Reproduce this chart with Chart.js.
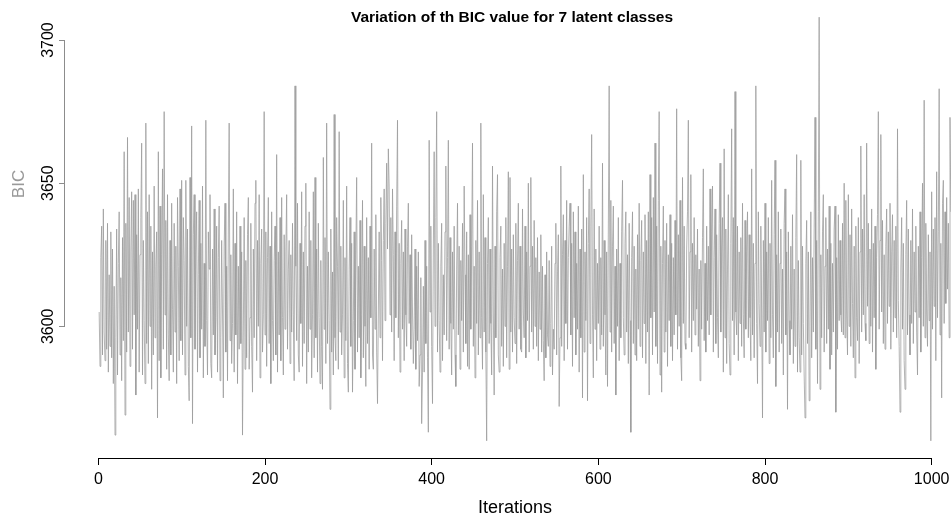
<!DOCTYPE html>
<html>
<head>
<meta charset="utf-8">
<script src="https://cdn.jsdelivr.net/npm/chart.js@4.4.0/dist/chart.umd.min.js"></script>
<style>
  html, body { margin: 0; padding: 0; background: #fff; overflow: hidden; }
  #wrap { width: 951px; height: 517px; }
</style>
</head>
<body>
<div id="wrap"><canvas id="chartTrace" width="951" height="517"></canvas></div>
<script>
// BIC value at each iteration (iteration = position + 1)
const bicValues = [
  3605,3586,3624,3635,3590,3641,3598,3588,3630,3592,
  3636,3584,3618,3593,3633,3589,3627,3580,3614,3562,
  3596,3634,3583,3622,3640,3590,3617,3581,3631,3595,
  3661,3569,3636,3591,3666,3598,3645,3586,3626,3647,
  3592,3644,3604,3646,3576,3632,3599,3648,3584,3625,
  3638,3664,3583,3630,3602,3580,3671,3594,3640,3587,
  3646,3600,3635,3578,3626,3590,3649,3596,3621,3633,
  3568,3661,3588,3642,3582,3625,3655,3592,3675,3604,
  3637,3585,3646,3597,3581,3630,3590,3643,3606,3584,
  3636,3598,3628,3580,3645,3621,3588,3648,3595,3651,
  3590,3638,3623,3583,3651,3600,3634,3586,3574,3652,
  3596,3670,3566,3632,3646,3592,3626,3640,3584,3618,
  3644,3589,3629,3599,3649,3582,3622,3593,3672,3602,
  3583,3633,3620,3646,3587,3582,3627,3597,3641,3590,
  3603,3635,3584,3624,3642,3581,3596,3630,3605,3575,
  3628,3643,3591,3621,3581,3634,3671,3595,3625,3587,
  3601,3648,3584,3629,3597,3640,3580,3621,3592,3635,
  3594,3626,3562,3598,3638,3585,3623,3589,3632,3645,
  3585,3603,3636,3593,3577,3627,3596,3643,3651,3588,
  3630,3600,3646,3582,3622,3634,3591,3604,3675,3597,
  3633,3586,3624,3645,3594,3628,3580,3640,3602,3588,
  3623,3635,3590,3660,3584,3626,3597,3638,3588,3645,
  3603,3583,3632,3599,3626,3646,3592,3620,3630,3587,
  3625,3598,3636,3604,3581,3684,3621,3595,3643,3590,
  3584,3629,3601,3647,3586,3626,3594,3635,3650,3580,
  3621,3591,3640,3599,3630,3582,3604,3647,3589,3652,
  3596,3627,3584,3636,3603,3580,3623,3593,3578,3659,
  3599,3631,3587,3671,3594,3626,3602,3571,3634,3591,
  3619,3583,3674,3596,3588,3638,3621,3585,3668,3598,
  3628,3590,3604,3644,3582,3624,3595,3649,3587,3577,
  3620,3638,3593,3629,3577,3602,3633,3585,3625,3652,
  3591,3621,3596,3637,3582,3604,3644,3589,3628,3600,
  3579,3638,3594,3624,3585,3635,3603,3664,3590,3585,
  3627,3599,3639,3591,3573,3605,3633,3596,3645,3623,
  3588,3630,3648,3602,3636,3657,3627,3662,3649,3604,
  3638,3598,3648,3625,3588,3633,3603,3642,3672,3596,
  3629,3584,3622,3637,3599,3626,3588,3634,3604,3593,
  3628,3643,3601,3625,3592,3632,3605,3587,3599,3627,
  3585,3621,3595,3626,3579,3590,3617,3566,3584,3614,
  3584,3630,3594,3621,3589,3563,3665,3605,3635,3593,
  3573,3627,3661,3600,3638,3675,3591,3629,3602,3584,
  3621,3636,3588,3618,3597,3633,3656,3595,3624,3665,
  3592,3631,3601,3583,3626,3599,3635,3590,3579,3620,
  3643,3597,3628,3585,3623,3602,3636,3591,3649,3618,
  3594,3633,3586,3625,3585,3639,3599,3628,3664,3593,
  3621,3582,3630,3601,3644,3590,3626,3596,3671,3603,
  3585,3646,3598,3631,3591,3560,3622,3638,3594,3627,
  3601,3583,3656,3605,3576,3628,3596,3640,3653,3590,
  3584,3624,3635,3593,3620,3586,3629,3600,3638,3589,
  3621,3654,3585,3652,3598,3627,3591,3632,3603,3594,
  3636,3587,3623,3643,3599,3628,3592,3591,3641,3605,
  3596,3635,3589,3626,3602,3650,3591,3621,3652,3598,
  3628,3592,3637,3600,3624,3593,3631,3588,3619,3599,
  3632,3591,3621,3595,3581,3618,3589,3626,3597,3593,
  3623,3586,3601,3628,3583,3599,3592,3622,3636,3590,
  3619,3632,3572,3596,3656,3593,3625,3639,3588,3630,
  3601,3644,3592,3624,3635,3643,3597,3629,3586,3640,
  3603,3633,3590,3622,3599,3642,3584,3627,3596,3634,
  3575,3653,3591,3626,3602,3638,3574,3629,3648,3594,
  3635,3667,3604,3582,3641,3599,3627,3588,3622,3601,
  3635,3592,3624,3597,3657,3593,3630,3604,3583,3626,
  3579,3634,3684,3598,3644,3591,3628,3642,3594,3621,
  3576,3627,3600,3638,3588,3622,3596,3633,3651,3603,
  3590,3629,3640,3598,3625,3587,3636,3602,3563,3624,
  3640,3594,3628,3590,3620,3588,3632,3599,3643,3593,
  3623,3637,3589,3626,3601,3639,3587,3630,3598,3640,
  3576,3653,3603,3638,3590,3645,3605,3664,3593,3635,
  3587,3644,3675,3583,3628,3577,3622,3642,3591,3630,
  3598,3636,3586,3625,3602,3639,3593,3629,3588,3624,
  3597,3637,3604,3676,3592,3632,3600,3644,3589,3581,
  3652,3601,3635,3594,3592,3627,3640,3672,3596,3626,
  3653,3591,3629,3602,3638,3597,3625,3606,3634,3593,
  3620,3581,3623,3599,3631,3655,3595,3622,3591,3635,
  3602,3628,3597,3648,3604,3633,3649,3591,3624,3641,
  3594,3632,3603,3589,3636,3657,3598,3627,3638,3584,
  3662,3596,3634,3587,3620,3646,3594,3583,3629,3669,
  3602,3638,3590,3682,3605,3597,3635,3588,3626,3601,
  3631,3593,3643,3604,3589,3637,3599,3626,3640,3596,
  3632,3603,3588,3655,3597,3629,3589,3622,3684,3601,
  3580,3640,3608,3593,3635,3605,3568,3630,3598,3643,
  3591,3626,3602,3638,3587,3629,3596,3651,3604,3589,
  3632,3658,3579,3625,3598,3640,3591,3622,3634,3594,
  3620,3583,3636,3648,3597,3626,3571,3633,3602,3590,
  3628,3599,3639,3587,3620,3593,3631,3660,3584,3623,
  3596,3584,3658,3590,3628,3601,3583,3568,3622,3637,
  3594,3626,3574,3600,3640,3589,3624,3598,3634,3673,
  3592,3630,3580,3640,3708,3578,3625,3596,3633,3646,
  3591,3621,3638,3594,3627,3599,3642,3585,3629,3590,
  3622,3598,3634,3642,3570,3624,3592,3639,3602,3630,
  3604,3598,3636,3597,3650,3596,3644,3605,3590,3646,
  3600,3632,3593,3641,3608,3589,3628,3582,3635,3603,
  3595,3638,3587,3626,3663,3598,3634,3604,3646,3601,
  3595,3664,3607,3636,3594,3627,3600,3641,3591,3629,
  3603,3635,3585,3624,3639,3675,3599,3630,3667,3605,
  3637,3594,3625,3592,3628,3641,3601,3633,3607,3643,
  3592,3626,3639,3598,3630,3603,3635,3596,3669,3609,
  3593,3570,3620,3638,3599,3629,3588,3578,3625,3644,
  3597,3634,3604,3590,3630,3601,3641,3594,3626,3605,
  3635,3598,3583,3628,3603,3640,3591,3624,3650,3600,
  3679,3596,3636,3605,3593,3632,3602,3626,3560,3647,
  3599,3634,3607,3638,3588,3654,3603,3633,3683,3597,
  3629,3575,3643,3651,3601,3640,3608,3645,3613,3636,
  3596,3673,3640
];
const xTicks = [0, 200, 400, 600, 800, 1000];
const yTicks = [3600, 3650, 3700];
const chartTitle = 'Variation of th BIC value for 7 latent classes';
const xLabel = 'Iterations';
const yLabel = 'BIC';

const FONT = '"Liberation Sans", Arial, sans-serif';

// R-style axes: lines only span first..last tick, plus the free text
const rAxesPlugin = {
  id: 'rAxes',
  afterDraw(chart) {
    const { ctx, chartArea, scales: { x, y } } = chart;
    ctx.save();

    // x axis line
    ctx.strokeStyle = '#000';
    ctx.lineWidth = 1;
    ctx.beginPath();
    ctx.moveTo(x.getPixelForValue(xTicks[0]), chartArea.bottom + 0.5);
    ctx.lineTo(x.getPixelForValue(xTicks[xTicks.length - 1]), chartArea.bottom + 0.5);
    ctx.stroke();

    // y axis line (grey)
    ctx.strokeStyle = '#8c8c8c';
    ctx.beginPath();
    ctx.moveTo(chartArea.left - 0.5, y.getPixelForValue(yTicks[0]));
    ctx.lineTo(chartArea.left - 0.5, y.getPixelForValue(yTicks[yTicks.length - 1]));
    ctx.stroke();

    // y tick labels, rotated like R's las=0
    ctx.fillStyle = '#000';
    ctx.font = '16px ' + FONT;
    ctx.textAlign = 'center';
    ctx.textBaseline = 'alphabetic';
    yTicks.forEach(v => {
      ctx.save();
      ctx.translate(52.5, y.getPixelForValue(v));
      ctx.rotate(-Math.PI / 2);
      ctx.fillText(String(v), 0, 0);
      ctx.restore();
    });

    // title
    ctx.font = 'bold 15.5px ' + FONT;
    ctx.fillText(chartTitle, 512, 22);

    // x label
    ctx.font = '18px ' + FONT;
    ctx.fillText(xLabel, 515, 512.5);

    // y label
    ctx.save();
    ctx.fillStyle = '#999';
    ctx.font = '17px ' + FONT;
    ctx.translate(24, 184);
    ctx.rotate(-Math.PI / 2);
    ctx.fillText(yLabel, 0, 0);
    ctx.restore();

    ctx.restore();
  }
};

const ctxTrace = document.getElementById('chartTrace').getContext('2d');
new Chart(ctxTrace, {
  type: 'line',
  data: {
    datasets: [{
      data: bicValues.map((v, i) => ({ x: i + 1, y: v })),
      borderColor: '#9a9a9a',
      borderWidth: 0.75,
      pointRadius: 0,
      tension: 0,
      fill: false
    }]
  },
  options: {
    responsive: false,
    animation: false,
    devicePixelRatio: 1,
    layout: { padding: 0 },
    plugins: { legend: { display: false }, tooltip: { enabled: false }, title: { display: false } },
    scales: {
      x: {
        type: 'linear',
        min: -40,
        max: 1023.2,
        afterBuildTicks: s => { s.ticks = xTicks.map(v => ({ value: v })); },
        afterFit: s => { s.height = 59; s.paddingLeft = 0; s.paddingRight = 0; },
        border: { display: false },
        grid: { drawOnChartArea: false, drawTicks: true, tickLength: 7, color: '#000', lineWidth: 1 },
        ticks: {
          color: '#000', font: { family: FONT, size: 16 }, padding: 5,
          maxRotation: 0, minRotation: 0, autoSkip: false,
          callback: v => String(v)
        }
      },
      y: {
        type: 'linear',
        min: 3554,
        max: 3714,
        afterBuildTicks: s => { s.ticks = yTicks.map(v => ({ value: v })); },
        afterFit: s => { s.width = 65; s.paddingTop = 0; s.paddingBottom = 0; },
        border: { display: false },
        grid: { drawOnChartArea: false, drawTicks: true, tickLength: 6, color: '#8c8c8c', lineWidth: 1 },
        ticks: { display: false }
      }
    }
  },
  plugins: [rAxesPlugin]
});
</script>
</body>
</html>
